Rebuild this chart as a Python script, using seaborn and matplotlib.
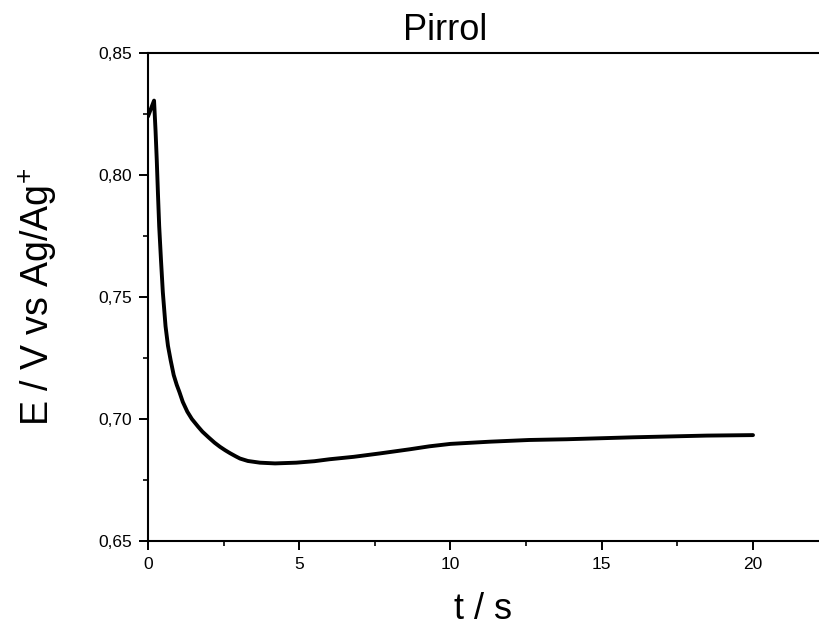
import matplotlib
matplotlib.use("Agg")
import matplotlib.pyplot as plt
import seaborn as sns
from matplotlib.ticker import MultipleLocator, FuncFormatter

# curva de potencial
t = [0, 0.2, 0.25, 0.29, 0.33, 0.37, 0.43, 0.49, 0.58, 0.66, 0.75, 0.85, 0.95,
     1.04, 1.15, 1.3, 1.45, 1.66, 1.8, 2.0, 2.2, 2.38, 2.55, 2.71, 2.9, 3.04,
     3.3, 3.7, 4.2, 4.9, 5.5, 6.0, 6.8, 7.67, 8.66, 9.3, 10.0, 11.3, 12.6,
     13.84, 16.04, 18.47, 20.0]
E = [0.824, 0.8305, 0.818, 0.806, 0.792, 0.779, 0.765, 0.752, 0.738, 0.730,
     0.724, 0.718, 0.714, 0.711, 0.707, 0.703, 0.7, 0.6968, 0.6948, 0.6925,
     0.6903, 0.6886, 0.6872, 0.686, 0.6847, 0.6838, 0.6828, 0.6821, 0.6818,
     0.6821, 0.6827, 0.6835, 0.6845, 0.6859, 0.6876, 0.6888, 0.6898, 0.6907,
     0.6914, 0.6917, 0.6925, 0.6932, 0.6934]

sns.set_style("white")
plt.rcParams["font.family"] = ["Liberation Sans", "DejaVu Sans"]
plt.rcParams["mathtext.default"] = "regular"
plt.rcParams["text.color"] = "black"
plt.rcParams["axes.labelcolor"] = "black"

fig = plt.figure(figsize=(8.19, 6.28), dpi=100)
ax = fig.add_axes([148 / 819, 1 - 541 / 628, 1 - 148 / 819, (541 - 53) / 628])

sns.lineplot(x=t, y=E, color="black", linewidth=2.8, ax=ax)

ax.set_xlim(0, (819 - 148) / 30.25)
ax.set_ylim(0.65, 0.85)
ax.xaxis.set_major_locator(MultipleLocator(5))
ax.xaxis.set_minor_locator(MultipleLocator(2.5))
ax.yaxis.set_major_locator(MultipleLocator(0.05))
ax.yaxis.set_minor_locator(MultipleLocator(0.025))
ax.yaxis.set_major_formatter(FuncFormatter(lambda v, p: f"{v:.2f}".replace(".", ",")))
ax.xaxis.set_major_formatter(FuncFormatter(lambda v, p: f"{v:.0f}"))

ax.tick_params(which="major", direction="out", length=6.5, width=1.4,
               labelsize=12.5, pad=5, colors="black", bottom=True, left=True)
ax.tick_params(which="minor", direction="out", length=3.5, width=1.4,
               bottom=True, left=True)

for s in ["left", "bottom", "top"]:
    ax.spines[s].set_linewidth(1.5)
    ax.spines[s].set_color("black")
ax.spines["right"].set_visible(False)

ax.set_title("Pirrol", fontsize=26, pad=9, x=(445 - 148) / 671, color="black")
ax.set_xlabel("t / s", fontsize=26)
ax.xaxis.set_label_coords(0.5, -0.104)
ax.set_ylabel("E / V vs Ag/Ag$^{+}$", fontsize=27)
ax.yaxis.set_label_coords(-0.133, 0.5)

fig.savefig("out.png", dpi=100)
